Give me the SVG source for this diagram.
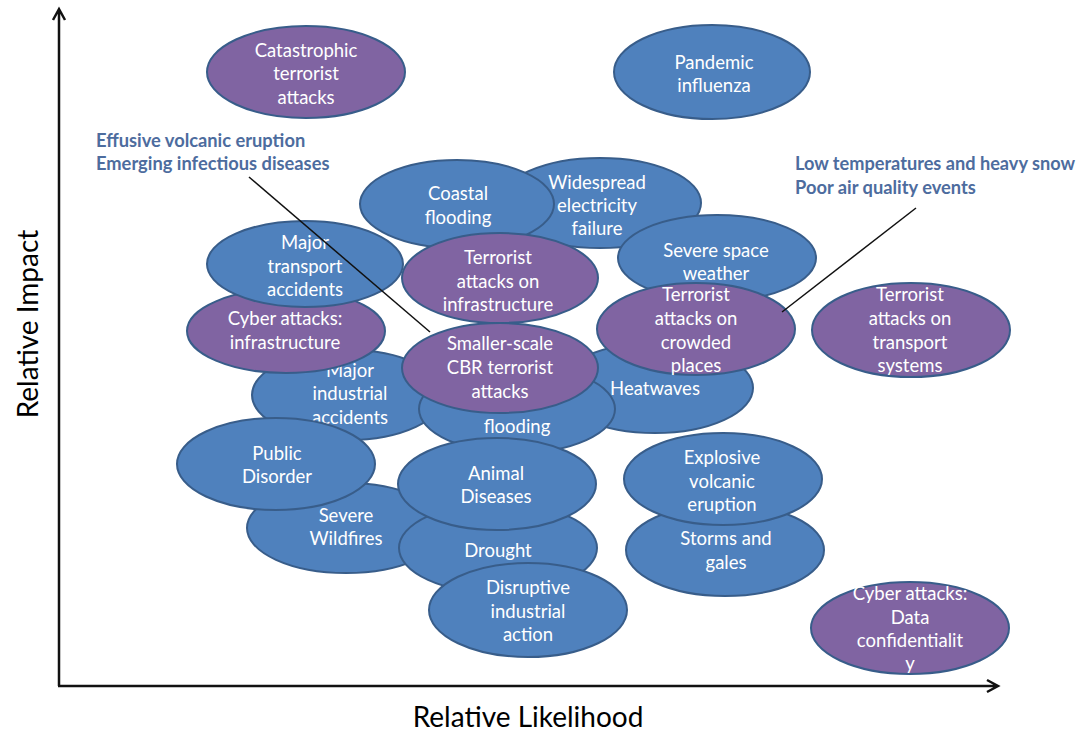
<svg xmlns="http://www.w3.org/2000/svg" width="1081" height="731" viewBox="0 0 1081 731">
<style>
.b{fill:#4f81bd;stroke:#385d8a;stroke-width:2}
.p{fill:#8064a2;stroke:#385d8a;stroke-width:2}
.t{font-family:Lato,"Liberation Sans",sans-serif;font-size:18.5px;fill:#ffffff;text-anchor:middle}
.lbl{font-family:Lato,"Liberation Sans",sans-serif;font-size:18.3px;font-weight:bold;fill:#4d6c9e}
.ax{font-family:Lato,"Liberation Sans",sans-serif;font-size:28px;fill:#000000;text-anchor:middle}
.axis{stroke:#111;stroke-width:2.5;fill:none}
.lead{stroke:#111;stroke-width:1.5;fill:none}
</style>
<rect width="1081" height="731" fill="#ffffff"/>
<g id="axes">
<path class="axis" d="M59,686 V9 M53,20 L59,9 L65,20"/>
<path class="axis" d="M58,686 H998 M987,680 L998,686 L987,692"/>
<text class="ax" transform="translate(38,324) rotate(-90)">Relative Impact</text>
<text class="ax" x="528" y="727">Relative Likelihood</text>
</g>
<g id="n-widespread"><ellipse class="b" cx="600" cy="203" rx="101" ry="45"/>
<text class="t" x="597" y="188.5">Widespread</text><text class="t" x="597" y="211.5">electricity</text><text class="t" x="597" y="234.5">failure</text></g>
<g id="n-coastal"><ellipse class="b" cx="457" cy="204" rx="97" ry="44"/>
<text class="t" x="458" y="199.5">Coastal</text><text class="t" x="458" y="223.5">flooding</text></g>
<g id="n-space"><ellipse class="b" cx="717" cy="258" rx="99" ry="43"/>
<text class="t" x="716" y="256.5">Severe space</text><text class="t" x="716" y="279.5">weather</text></g>
<g id="n-industrial"><ellipse class="b" cx="348" cy="395" rx="96" ry="45"/>
<text class="t" x="350" y="376.5">Major</text><text class="t" x="350" y="399.5">industrial</text><text class="t" x="350" y="423.5">accidents</text></g>
<g id="n-cyber-infra"><ellipse class="p" cx="286" cy="331" rx="99" ry="42"/>
<text class="t" x="285" y="324.5">Cyber attacks:</text><text class="t" x="285" y="348.5">infrastructure</text></g>
<g id="n-transport"><ellipse class="b" cx="305" cy="264" rx="98" ry="43"/>
<text class="t" x="305" y="248.5">Major</text><text class="t" x="305" y="272.5">transport</text><text class="t" x="305" y="295.5">accidents</text></g>
<g id="n-terror-infra"><ellipse class="p" cx="500" cy="278" rx="98" ry="45"/>
<text class="t" x="498" y="263.5">Terrorist</text><text class="t" x="498" y="287.5">attacks on</text><text class="t" x="498" y="310.5">infrastructure</text></g>
<g id="n-heatwaves"><ellipse class="b" cx="655" cy="388" rx="98" ry="45"/>
<text class="t" x="655" y="394.5">Heatwaves</text></g>
<g id="n-flooding"><ellipse class="b" cx="517" cy="409" rx="98" ry="44"/>
<text class="t" x="517" y="432.5">flooding</text></g>
<g id="n-cbr"><ellipse class="p" cx="500" cy="368" rx="98" ry="45"/>
<text class="t" x="500" y="349.5">Smaller-scale</text><text class="t" x="500" y="373.5">CBR terrorist</text><text class="t" x="500" y="397.5">attacks</text></g>
<g id="n-crowded"><ellipse class="p" cx="696" cy="329" rx="99" ry="46"/>
<text class="t" x="696" y="300.5">Terrorist</text><text class="t" x="696" y="324.5">attacks on</text><text class="t" x="696" y="348.5">crowded</text><text class="t" x="696" y="371.5">places</text></g>
<g id="n-wildfires"><ellipse class="b" cx="346" cy="528" rx="99" ry="45"/>
<text class="t" x="346" y="521.5">Severe</text><text class="t" x="346" y="544.5">Wildfires</text></g>
<g id="n-disorder"><ellipse class="b" cx="276" cy="464" rx="99" ry="46"/>
<text class="t" x="277" y="459.5">Public</text><text class="t" x="277" y="482.5">Disorder</text></g>
<g id="n-drought"><ellipse class="b" cx="498" cy="548" rx="99" ry="45"/>
<text class="t" x="498" y="556.5">Drought</text></g>
<g id="n-animal"><ellipse class="b" cx="497" cy="484" rx="99" ry="46"/>
<text class="t" x="496" y="479.5">Animal</text><text class="t" x="496" y="502.5">Diseases</text></g>
<g id="n-disruptive"><ellipse class="b" cx="528" cy="610" rx="99" ry="47"/>
<text class="t" x="528" y="593.5">Disruptive</text><text class="t" x="528" y="617.5">industrial</text><text class="t" x="528" y="640.5">action</text></g>
<g id="n-storms"><ellipse class="b" cx="725" cy="550" rx="99" ry="46"/>
<text class="t" x="726" y="544.5">Storms and</text><text class="t" x="726" y="568.5">gales</text></g>
<g id="n-explosive"><ellipse class="b" cx="723" cy="479" rx="99" ry="46"/>
<text class="t" x="722" y="463.5">Explosive</text><text class="t" x="722" y="487.5">volcanic</text><text class="t" x="722" y="510.5">eruption</text></g>
<g id="n-catastrophic"><ellipse class="p" cx="306" cy="72" rx="99" ry="46"/>
<text class="t" x="306" y="56.5">Catastrophic</text><text class="t" x="306" y="79.5">terrorist</text><text class="t" x="306" y="103.5">attacks</text></g>
<g id="n-pandemic"><ellipse class="b" cx="712" cy="72" rx="98" ry="47"/>
<text class="t" x="714" y="68.5">Pandemic</text><text class="t" x="714" y="91.5">influenza</text></g>
<g id="n-transport-sys"><ellipse class="p" cx="911" cy="330" rx="99" ry="47"/>
<text class="t" x="910" y="300.5">Terrorist</text><text class="t" x="910" y="324.5">attacks on</text><text class="t" x="910" y="348.5">transport</text><text class="t" x="910" y="371.5">systems</text></g>
<g id="n-cyber-data"><ellipse class="p" cx="910" cy="628" rx="99" ry="46"/>
<text class="t" x="910" y="599.5">Cyber attacks:</text><text class="t" x="910" y="623.5">Data</text><text class="t" x="910" y="646.5">confidentialit</text><text class="t" x="910" y="669.5">y</text></g>
<g id="label-effusive"><text class="lbl" x="96" y="146.5">Effusive volcanic eruption</text><text class="lbl" x="96" y="169.5">Emerging infectious diseases</text></g>
<g id="label-low"><text class="lbl" x="795" y="169.5" textLength="280" lengthAdjust="spacingAndGlyphs">Low temperatures and heavy snow</text><text class="lbl" x="795" y="193.5">Poor air quality events</text></g>
<g id="connectors">
<line class="lead" x1="249" y1="177" x2="430" y2="332"/>
<line class="lead" x1="916" y1="208" x2="782" y2="312"/>
</g>
</svg>
